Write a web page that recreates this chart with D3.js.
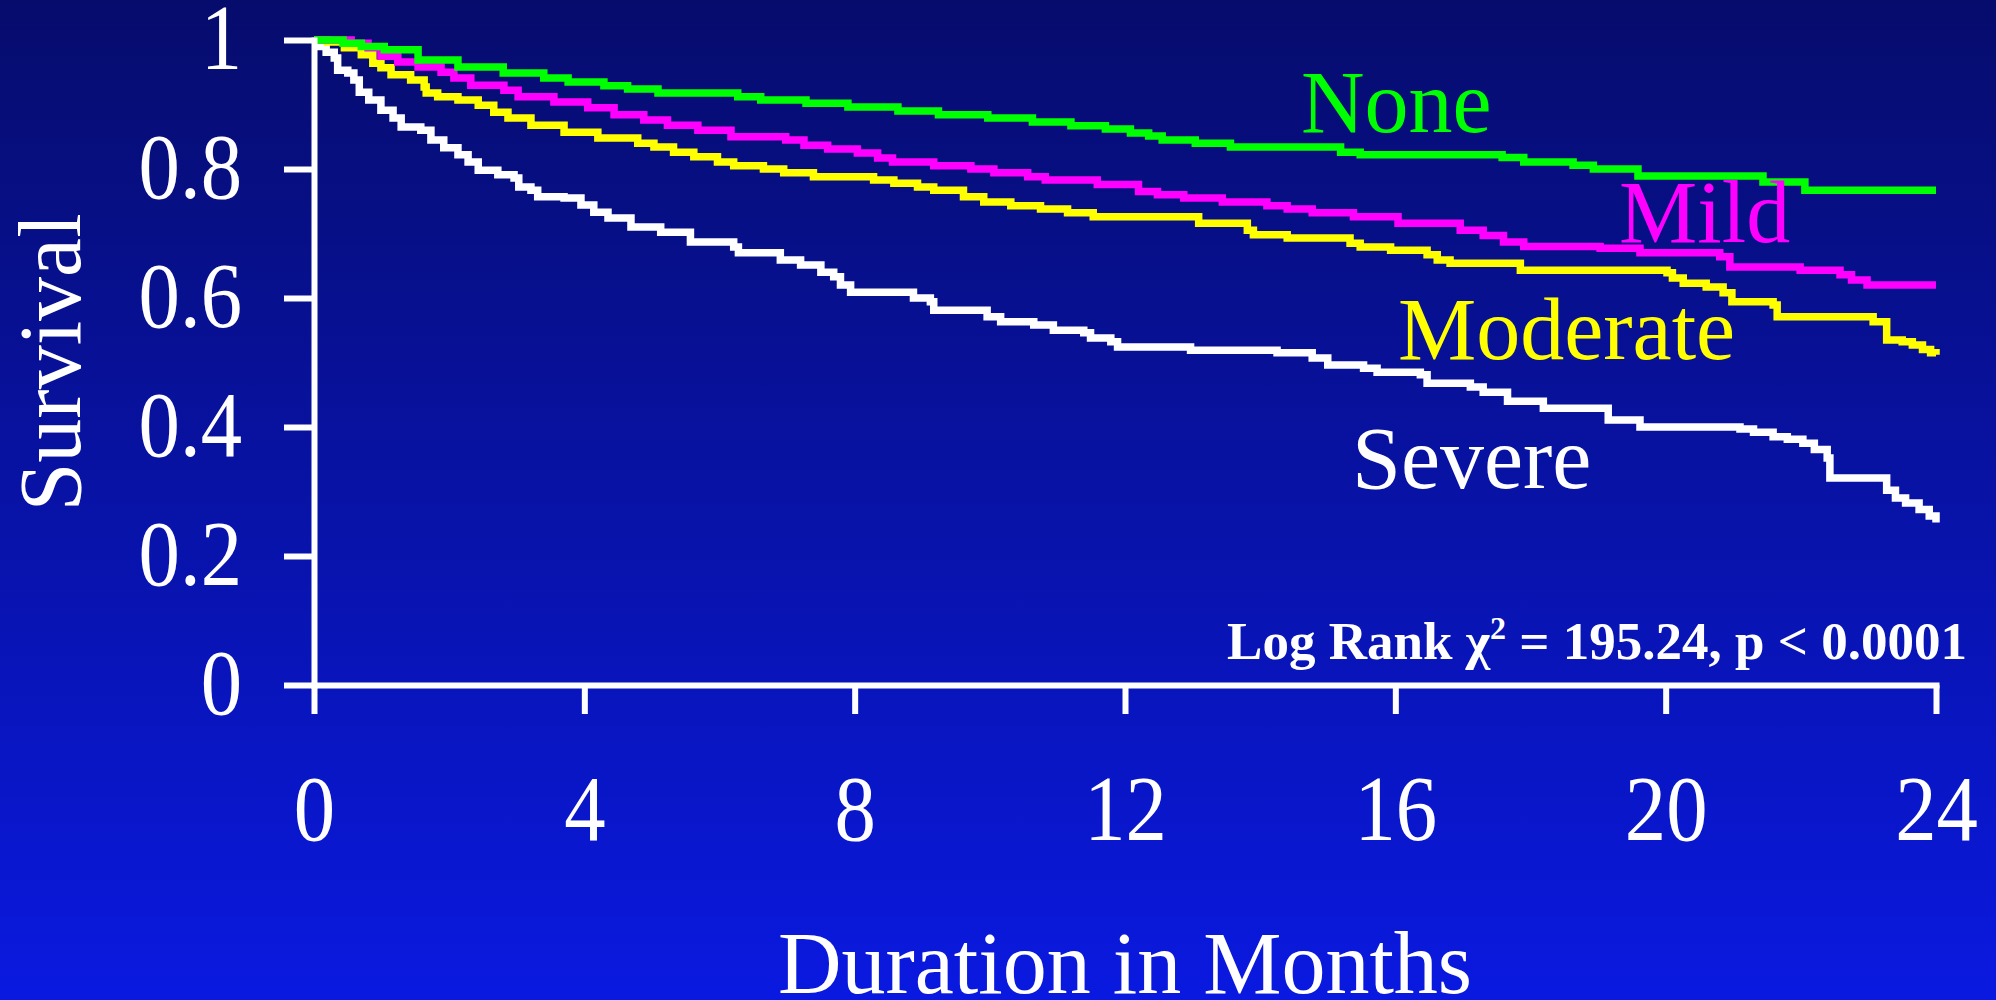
<!DOCTYPE html>
<html>
<head>
<meta charset="utf-8">
<script src="https://cdn.jsdelivr.net/npm/d3@7"></script>
<style>
  body { margin: 0; background: #0812a0; }
  svg { display: block; }
  .axis path, .axis line { stroke: #fff; stroke-width: 6; }
  .axis text { fill: #fff; font-family: "Liberation Serif", "Times New Roman", serif; font-size: 94px; }
  .title { fill: #fff; font-family: "Liberation Serif", "Times New Roman", serif; font-size: 88px; }
</style>
</head>
<body>
<svg id="chart" width="1996" height="1000"></svg>
<script>
// Kaplan-Meier survival by severity, [month, survival]
const noneCurve = [[0,1],[0.43,0.995],[0.7,0.99],[1.04,0.985],[1.54,0.969],[2.13,0.958],[2.8,0.949],[3.4,0.941],[3.76,0.935],[4.29,0.929],[4.64,0.924],[5.09,0.918],[6.27,0.912],[6.61,0.907],[7.28,0.902],[7.9,0.896],[8.64,0.89],[9.24,0.884],[9.97,0.879],[10.63,0.873],[11.2,0.867],[11.71,0.862],[12.08,0.856],[12.35,0.851],[12.55,0.845],[13.04,0.84],[13.56,0.834],[15.19,0.826],[15.48,0.822],[17.58,0.818],[17.9,0.811],[18.63,0.806],[18.93,0.8],[19.59,0.789],[21.44,0.78],[22.06,0.767],[24,0.767]];

const mildCurve = [[0,1],[0.55,0.995],[0.8,0.988],[0.99,0.975],[1.24,0.966],[1.54,0.958],[1.88,0.95],[2.07,0.941],[2.32,0.93],[2.81,0.922],[3.02,0.912],[3.55,0.904],[4.05,0.895],[4.44,0.884],[4.88,0.876],[5.23,0.868],[5.68,0.86],[6.17,0.85],[6.98,0.845],[7.25,0.837],[7.6,0.831],[8.04,0.825],[8.34,0.817],[8.56,0.811],[9.17,0.805],[9.72,0.8],[10.06,0.794],[10.56,0.788],[10.82,0.783],[11.59,0.776],[12.2,0.765],[12.48,0.76],[12.87,0.755],[13.44,0.749],[14.1,0.743],[14.4,0.738],[14.77,0.732],[15.38,0.726],[16.04,0.716],[16.96,0.705],[17.3,0.697],[17.6,0.687],[17.9,0.68],[19.03,0.677],[19.62,0.67],[20.8,0.664],[20.95,0.648],[21.99,0.643],[22.58,0.636],[22.75,0.628],[22.98,0.62],[24,0.62]];

const moderateCurve = [[0,1],[0.2,0.997],[0.45,0.988],[0.7,0.977],[0.87,0.964],[0.99,0.957],[1.14,0.946],[1.43,0.938],[1.63,0.927],[1.66,0.918],[1.83,0.912],[2.13,0.907],[2.43,0.899],[2.66,0.888],[2.87,0.879],[3.21,0.868],[3.7,0.857],[4.2,0.848],[4.79,0.84],[5.03,0.834],[5.32,0.826],[5.62,0.819],[5.97,0.811],[6.21,0.805],[6.65,0.8],[6.95,0.794],[7.39,0.788],[8.28,0.783],[8.58,0.778],[8.93,0.772],[9.17,0.767],[9.61,0.757],[9.91,0.749],[10.31,0.743],[10.75,0.738],[11.15,0.732],[11.53,0.726],[13.09,0.716],[13.81,0.705],[13.9,0.698],[14.4,0.693],[15.33,0.685],[15.48,0.679],[15.93,0.674],[16.47,0.667],[16.62,0.659],[16.81,0.654],[17.85,0.643],[20.02,0.639],[20.1,0.631],[20.26,0.623],[20.6,0.617],[20.85,0.608],[20.98,0.594],[21.59,0.589],[21.65,0.571],[23.07,0.563],[23.27,0.535],[23.5,0.532],[23.65,0.527],[23.8,0.52],[23.92,0.515],[24,0.512]];

const severeCurve = [[0,1],[0.06,0.99],[0.18,0.981],[0.3,0.972],[0.35,0.953],[0.5,0.949],[0.59,0.938],[0.67,0.919],[0.81,0.907],[0.99,0.891],[1.17,0.879],[1.29,0.865],[1.58,0.86],[1.73,0.845],[1.92,0.833],[2.13,0.822],[2.28,0.811],[2.43,0.798],[2.72,0.791],[2.96,0.786],[3.03,0.772],[3.21,0.767],[3.31,0.757],[3.7,0.755],[3.95,0.744],[4.14,0.733],[4.35,0.724],[4.69,0.71],[5.13,0.702],[5.57,0.687],[6.21,0.679],[6.28,0.67],[6.9,0.659],[7.2,0.651],[7.5,0.64],[7.69,0.633],[7.79,0.62],[7.94,0.609],[8.87,0.6],[9.12,0.594],[9.17,0.581],[9.96,0.571],[10.16,0.563],[10.65,0.558],[10.94,0.55],[11.39,0.546],[11.49,0.538],[11.79,0.532],[11.89,0.524],[12.97,0.519],[14.25,0.515],[14.77,0.507],[15,0.496],[15.53,0.491],[15.73,0.485],[16.37,0.481],[16.47,0.468],[17.11,0.462],[17.3,0.454],[17.66,0.44],[18.19,0.429],[19.15,0.411],[19.62,0.4],[21.1,0.397],[21.3,0.392],[21.59,0.385],[21.8,0.381],[22.03,0.375],[22.2,0.365],[22.39,0.352],[22.43,0.321],[23.13,0.321],[23.27,0.302],[23.4,0.29],[23.55,0.282],[23.75,0.272],[23.9,0.262],[24,0.252]];

const seriesNames = ["Severe", "Moderate", "Mild", "None"];
const seriesColors = ["#ffffff", "#ffff00", "#ff00ff", "#00ff00"];
const xTicks = [0, 4, 8, 12, 16, 20, 24];
const yTicks = [0, 0.2, 0.4, 0.6, 0.8, 1];

const W = 1996, H = 1000;
const squeeze = 0.88; // the slide's type is a touch narrow
const svg = d3.select("#chart");

// background gradient
const grad = svg.append("defs").append("linearGradient")
    .attr("id", "bg").attr("x1", 0).attr("y1", 0).attr("x2", 0).attr("y2", 1);
grad.append("stop").attr("offset", "0%").attr("stop-color", "#060c6c");
grad.append("stop").attr("offset", "100%").attr("stop-color", "#0a19e0");
svg.append("rect").attr("width", W).attr("height", H).attr("fill", "url(#bg)");

const x = d3.scaleLinear().domain([0, 24]).range([314, 1936]);
const y = d3.scaleLinear().domain([0, 1]).range([685, 40]);

const line = d3.line()
    .x(d => x(d[0])).y(d => y(d[1]))
    .curve(d3.curveStepAfter);

const curves = [severeCurve, moderateCurve, mildCurve, noneCurve];
svg.append("g").selectAll("path").data(curves).enter().append("path")
    .attr("d", line)
    .attr("fill", "none")
    .attr("stroke", (d, i) => seriesColors[i])
    .attr("stroke-width", 7.5);

// turn x/y of a text into a translate + horizontal squeeze
function narrow(sel) {
    sel.each(function() {
        const t = d3.select(this);
        const tx = +t.attr("x") || 0, ty = +t.attr("y") || 0;
        t.attr("x", null).attr("y", null)
         .attr("transform", `translate(${tx},${ty}) scale(${squeeze},1)`);
    });
}

// axes
const yAxis = svg.append("g").attr("class", "axis")
    .attr("transform", `translate(${x(0)},0)`)
    .call(d3.axisLeft(y).tickValues(yTicks).tickSize(30).tickSizeOuter(0).tickPadding(42).tickFormat(d3.format("")));
yAxis.selectAll("text").attr("dy", "0.3em").call(narrow);

const xAxis = svg.append("g").attr("class", "axis")
    .attr("transform", `translate(0,${y(0)})`)
    .call(d3.axisBottom(x).tickValues(xTicks).tickSize(29).tickSizeOuter(0));
xAxis.selectAll("text").attr("y", 155).attr("dy", null).call(narrow);

svg.selectAll(".axis .domain").attr("stroke-linecap", "square");

// axis titles
svg.append("text").attr("class", "title")
    .attr("x", (x(0) + x(24)) / 2).attr("y", 993)
    .attr("text-anchor", "middle").text("Duration in Months");

svg.append("text").attr("class", "title")
    .attr("transform", `translate(80,${(y(0) + y(1)) / 2}) rotate(-90)`)
    .attr("text-anchor", "middle").text("Survival");

// series labels
const labelPos = [[1352, 488], [1398, 359], [1619, 242], [1301, 132]];
svg.append("g").selectAll("text").data(seriesNames).enter().append("text")
    .attr("class", "title")
    .attr("x", (d, i) => labelPos[i][0]).attr("y", (d, i) => labelPos[i][1])
    .style("fill", (d, i) => seriesColors[i])
    .text(d => d);

// log rank annotation
const stat = svg.append("text")
    .attr("x", 1967).attr("y", 659).attr("text-anchor", "end")
    .attr("fill", "#fff")
    .style("font-family", "'Liberation Serif', 'Times New Roman', serif")
    .style("font-weight", "bold").style("font-size", "53px");
stat.append("tspan").text("Log Rank \u03c7");
stat.append("tspan").attr("dy", -20).style("font-size", "32px").text("2");
stat.append("tspan").attr("dy", 20).text(" = 195.24, p < 0.0001");
</script>
</body>
</html>
